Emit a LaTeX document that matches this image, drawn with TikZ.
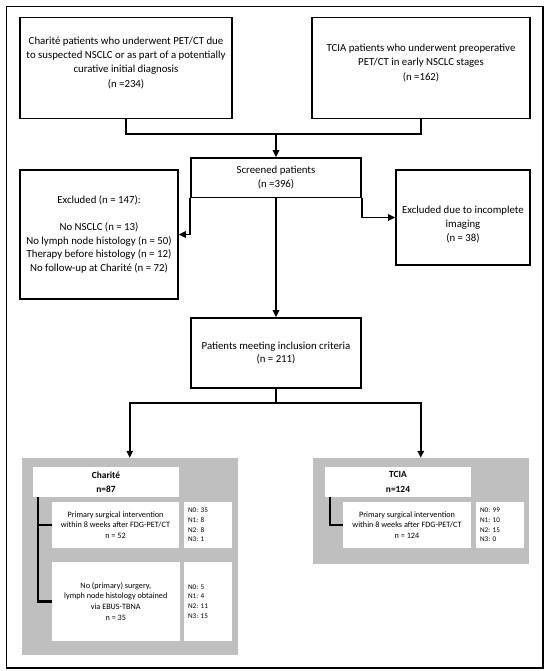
\documentclass[tikz,border=0pt]{standalone}
\usepackage{fontspec}
\setmainfont{Carlito}
\usetikzlibrary{arrows.meta}
\definecolor{panelgray}{RGB}{191,191,191}
\frenchspacing

\begin{document}
\begin{tikzpicture}[
  x=1pt, y=-1pt,
  every node/.style = {align=center, inner sep=0pt},
  flowbox/.style = {draw, line width=1.6pt, font=\fontsize{10.8}{13.6}\selectfont},
  panel/.style = {fill=panelgray},
  header/.style = {fill=white, font=\bfseries\fontsize{9.4}{14.5}\selectfont},
  whitebox/.style = {fill=white, font=\fontsize{8.2}{10.6}\selectfont},
  countbox/.style = {fill=white, align=left, inner xsep=4pt, text width=40pt, font=\fontsize{7.2}{9.6}\selectfont},
  link/.style = {line width=1.6pt},
  arrow/.style = {link, -{Triangle[length=7pt,width=6.5pt]}},
  bracket/.style = {line width=2.6pt}
]
  \useasboundingbox (0,0) rectangle (550,671);
  \draw[line width=1.2pt] (6.5,6.5) rectangle (543,668);

  % sources
  \node[flowbox, minimum width=212pt, minimum height=101pt] (charite) at (126,68)
    {Charité patients who underwent PET/CT due\\ to suspected NSCLC or as part of a potentially\\ curative initial diagnosis\\[2pt] (n =234)\\[-2.6pt] \mbox{}};
  \node[flowbox, minimum width=218pt, minimum height=101pt] (tcia) at (421,68)
    {TCIA patients who underwent preoperative\\ PET/CT in early NSCLC stages\\[2pt] (n =162)\\[-2.6pt] \mbox{}};

  % screening
  \node[flowbox, minimum width=170pt, minimum height=39.4pt] (screened) at (276,177.7)
    {Screened patients\\ (n =396)};
  \node[flowbox, minimum width=158pt, minimum height=129pt] (exclA) at (99,234.5)
    {Excluded (n = 147):\\[13.6pt] No NSCLC (n = 13)\\ No lymph node histology (n = 50)\\ Therapy before histology (n = 12)\\ No follow-up at Charité (n = 72)};
  \node[flowbox, minimum width=134pt, minimum height=95pt] (exclB) at (463,217.5)
    {\rule{0pt}{21.5pt}Excluded due to incomplete\\ imaging\\ (n = 38)};
  \node[flowbox, minimum width=170pt, minimum height=70pt] (incl) at (276,353)
    {Patients meeting inclusion criteria\\ (n = 211)};

  % cohorts
  \node[panel, minimum width=215.5pt, minimum height=196.7pt] (panelA) at (129.75,556.3) {};
  \node[panel, minimum width=216.5pt, minimum height=106pt] (panelB) at (420.75,511) {};

  \node[header, minimum width=146pt, minimum height=30pt] (hdrA) at (106,482) {Charité\\ n=87};
  \node[whitebox, minimum width=127pt, minimum height=46pt] (surgA) at (115.5,525)
    {Primary surgical intervention\\ within 8 weeks after FDG-PET/CT\\ n = 52};
  \node[countbox, minimum height=46pt] (nA1) at (208,525) {N0: 35\\ N1: 8\\ N2: 8\\ N3: 1};
  \node[whitebox, minimum width=127.6pt, minimum height=78.7pt] (ebusA) at (115.8,601.3)
    {No (primary) surgery,\\ lymph node histology obtained\\ via EBUS-TBNA\\ n = 35};
  \node[countbox, minimum height=78.7pt] (nA2) at (208,601.3) {N0: 5\\ N1: 4\\ N2: 11\\ N3: 15};

  \node[header, minimum width=146pt, minimum height=30pt] (hdrB) at (398,482) {TCIA\\ n=124};
  \node[whitebox, minimum width=128pt, minimum height=46pt] (surgB) at (407,525)
    {Primary surgical intervention\\ within 8 weeks after FDG-PET/CT\\ n = 124};
  \node[countbox, minimum height=46pt] (nB) at (500,525) {N0: 99\\ N1: 10\\ N2: 15\\ N3: 0};

  % connectors
  \draw[link] (charite.south) -- ++(0,14.5) coordinate (merge) -| (tcia.south);
  \draw[arrow] (merge -| screened.north) -- (screened.north);
  \draw[arrow] (screened.south west) |- (exclA.east);
  \draw[arrow] (screened.south east) |- (exclB.west);
  \draw[arrow] (screened.south) -- (incl.north);
  \draw[link] (incl.south) -- ++(0,14) coordinate (split);
  \draw[arrow] (split) -| (panelA.north);
  \draw[arrow] (split) -| (panelB.north);

  \draw[bracket] ([xshift=5pt]hdrA.south west) |- (surgA.west);
  \draw[bracket] ([xshift=5pt]hdrA.south west) |- (ebusA.west);
  \draw[bracket] ([xshift=5pt]hdrB.south west) |- (surgB.west);
\end{tikzpicture}
\end{document}
